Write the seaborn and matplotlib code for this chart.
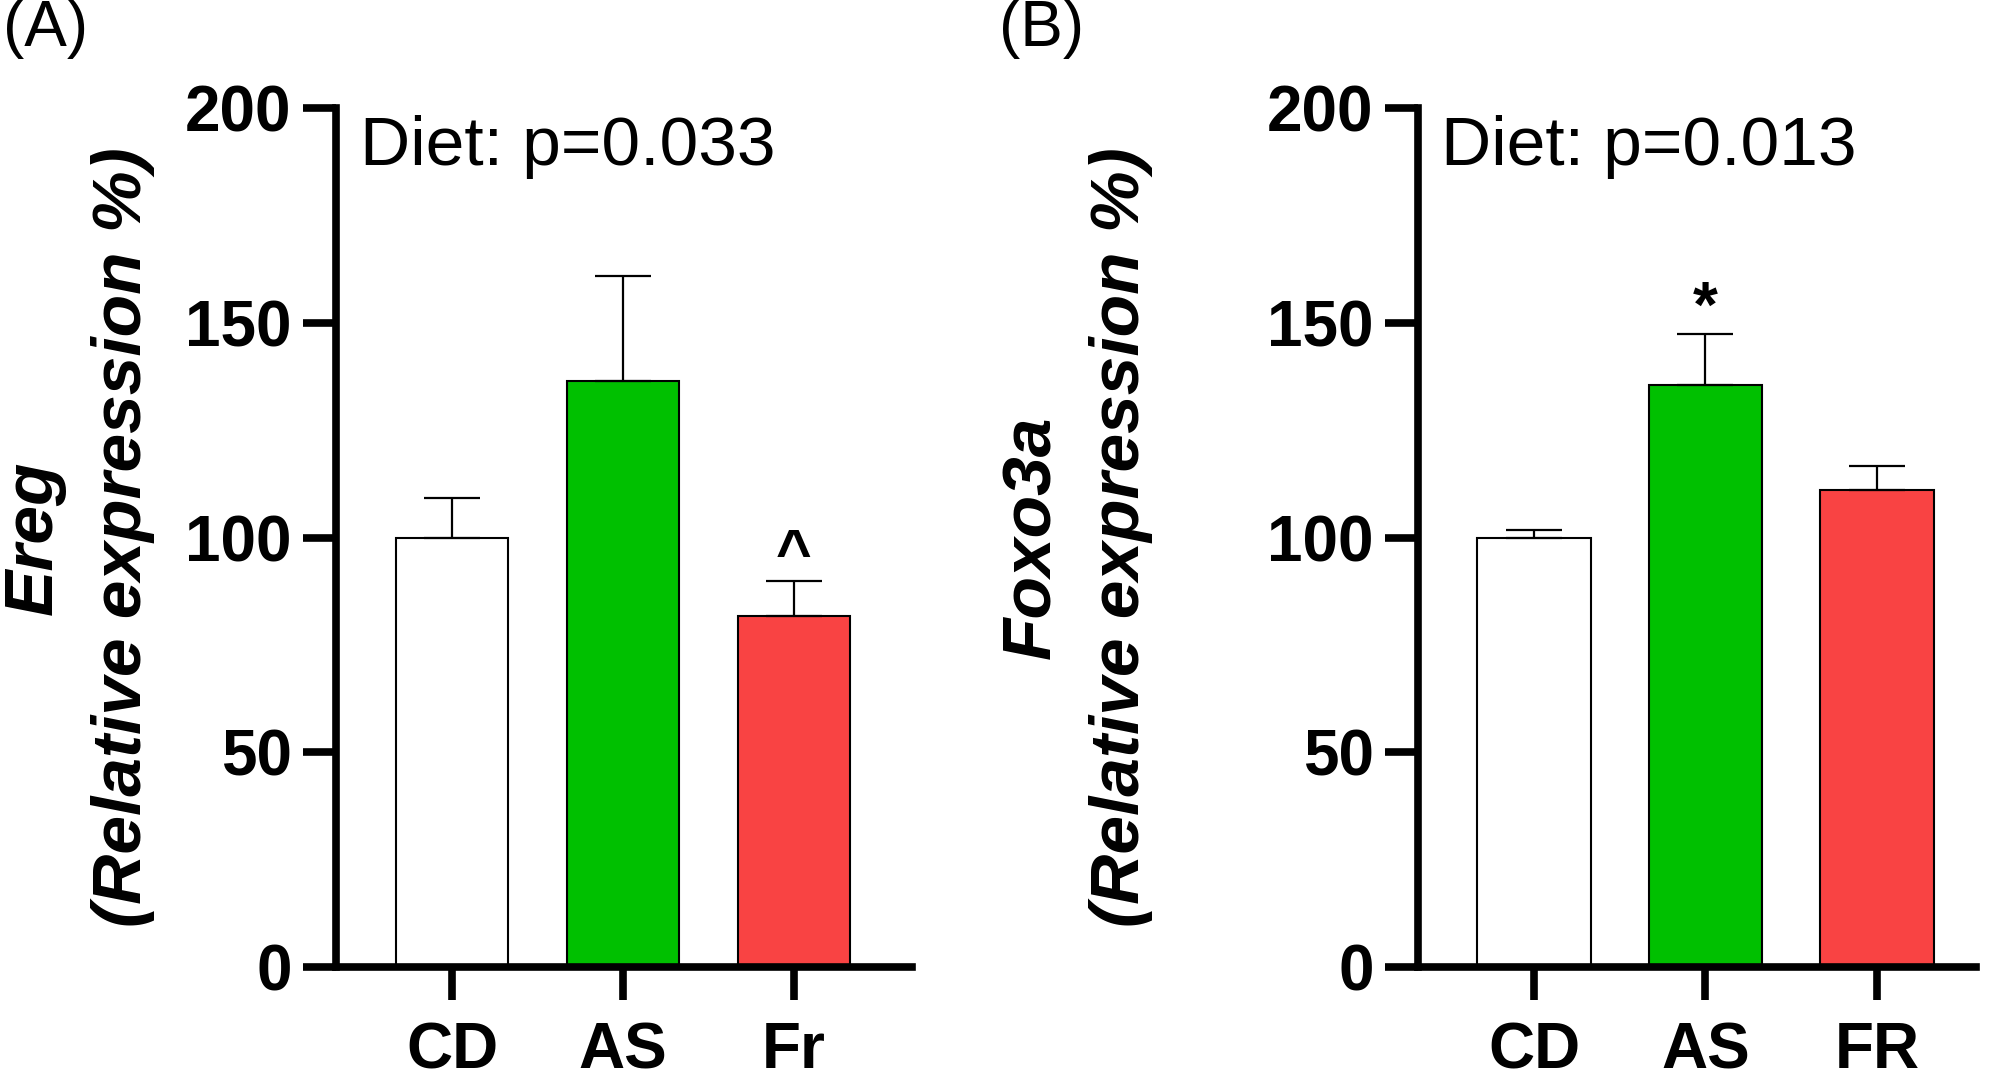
import numpy as np
import pandas as pd
import matplotlib
matplotlib.use('Agg')
import matplotlib.pyplot as plt
import seaborn as sns

# panel A - Ereg
cats_a = ['CD', 'AS', 'Fr']
means_a = [100, 136.5, 81.8]
errs_a = [9.3, 24.5, 8.0]

# panel B - Foxo3a
cats_b = ['CD', 'AS', 'FR']
means_b = [100, 135.5, 111.0]
errs_b = [1.8, 11.8, 5.7]

colors = ['#FFFFFF', '#00C000', '#F94343']
yticks = [0, 50, 100, 150, 200]

sns.set_style('ticks')
plt.rcParams['font.family'] = ['Liberation Sans', 'DejaVu Sans']
plt.rcParams.update({'text.color': 'black', 'axes.edgecolor': 'black',
                     'xtick.color': 'black', 'ytick.color': 'black',
                     'axes.labelcolor': 'black'})

fig = plt.figure(figsize=(20, 10.79), dpi=100)
ax_a = fig.add_axes([0.168, 0.1038, 0.288, 0.796])
ax_b = fig.add_axes([0.709, 0.1038, 0.279, 0.796])


def draw_panel(ax, cats, means, errs, gene, pval, xlim, label_x):
    df = pd.DataFrame({'group': cats, 'value': means})
    sns.barplot(data=df, x='group', y='value', hue='group', palette=colors,
                width=0.66, edgecolor='black', linewidth=1.5, errorbar=None,
                saturation=1, legend=False, ax=ax)
    # upper error bars only
    ax.errorbar(range(len(cats)), means, yerr=[np.zeros(len(errs)), errs],
                fmt='none', ecolor='black', elinewidth=1.6, capsize=20.5,
                capthick=1.6, zorder=1)

    ax.set_ylim(0, 200)
    ax.set_xlim(*xlim)
    ax.set_yticks(yticks)
    ax.set_xlabel('')
    sns.despine(ax=ax)
    for side in ['left', 'bottom']:
        ax.spines[side].set_linewidth(5.5)
    ax.tick_params(length=24, width=5.5, labelsize=46, pad=8)
    ax.tick_params(axis='x', pad=15)
    for lab in ax.get_xticklabels() + ax.get_yticklabels():
        lab.set_fontweight('bold')

    ax.set_ylabel(f'{gene}\n(Relative expression %)', fontsize=50,
                  fontweight='bold', fontstyle='italic', linespacing=1.5)
    ax.yaxis.set_label_coords(label_x, 0.5)

    ax.text(-0.54, 186.7, f'Diet: p={pval}', fontsize=50, ha='left',
            va='baseline')


draw_panel(ax_a, cats_a, means_a, errs_a, 'Ereg', '0.033', (-0.678, 2.69), -0.314)
draw_panel(ax_b, cats_b, means_b, errs_b, 'Foxo3a', '0.013', (-0.676, 2.577), -0.475)

# significance marks
ax_a.text(2, 95.5, '^', fontsize=44, fontweight='bold', ha='center', va='center')
ax_b.text(1, 153, '*', fontsize=46, fontweight='bold', ha='center', va='center')

fig.text(0.0015, 0.957, '(A)', fontsize=46, va='baseline', ha='left')
fig.text(0.4995, 0.957, '(B)', fontsize=46, va='baseline', ha='left')

fig.savefig('out.png', dpi=100)
